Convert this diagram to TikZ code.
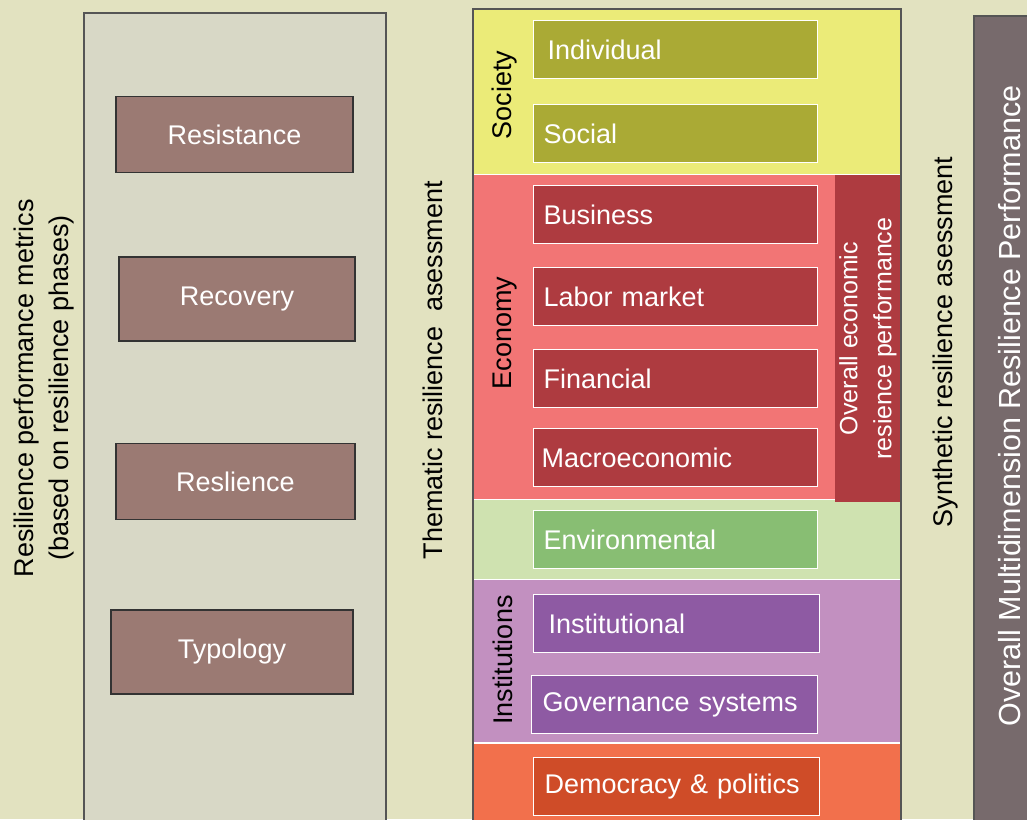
\documentclass[tikz,border=0pt]{standalone}
\usepackage{fontspec}
\setmainfont{Liberation Sans}
\usepackage{tikz}

\definecolor{paper}{RGB}{226,226,192}
\definecolor{panel}{RGB}{216,216,198}
\definecolor{phase}{RGB}{155,122,115}
\definecolor{edge}{RGB}{85,85,85}
\definecolor{socband}{RGB}{235,235,120}
\definecolor{socbox}{RGB}{170,170,53}
\definecolor{ecoband}{RGB}{242,117,117}
\definecolor{ecobox}{RGB}{174,59,64}
\definecolor{envband}{RGB}{207,226,176}
\definecolor{envbox}{RGB}{136,190,115}
\definecolor{insband}{RGB}{194,144,192}
\definecolor{insbox}{RGB}{142,90,163}
\definecolor{demband}{RGB}{242,112,76}
\definecolor{dembox}{RGB}{207,76,40}
\definecolor{overall}{RGB}{119,106,108}

\newcommand{\bigfont}{\fontsize{27}{35}\selectfont}
\newcommand{\band}[4]{\fill[#4] (473,#1) rectangle (901,#2); \draw[white,line width=1.2pt] (473,#3) -- (901,#3);}

\tikzset{
  phasebox/.style={draw=black!80, line width=1.2pt, fill=phase, text=white,
    minimum height=76pt, font=\bigfont},
  itembox/.style={anchor=north west, draw=white, line width=1.2pt, text=white,
    minimum width=284pt, minimum height=58pt, text width=264pt, align=left,
    inner xsep=10pt, font=\bigfont},
  sidelabel/.style={rotate=90, align=center, font=\bigfont}
}

\begin{document}
\begin{tikzpicture}[x=1pt, y=-1pt]
    \clip (0,0) rectangle (1027,819);
    \fill[paper] (0,0) rectangle (1027,819);

    % phases panel
    \draw[fill=panel, draw=edge, line width=1.5pt] (84,13) rectangle (386,830);
    \node[phasebox, minimum width=237pt] (resist) at (234.5,134.5) {Resistance};
    \node[phasebox, minimum width=236pt, minimum height=84pt] (recov) at (237,299) {Recovery};
    \node[phasebox, minimum width=239pt] (reslie) at (235.5,481.5) {Reslience};
    \node[phasebox, minimum width=242pt, minimum height=84pt] (typol) at (232,652) {Typology};
    \node[sidelabel] (metrics) at (44,388) {Resilience performance metrics\\(based on resilience phases)};

    \node[sidelabel] (thematic) at (433,370) {Thematic resilience \ asessment};

    % thematic bands
    \band{9}{175}{175}{socband}
    \band{175}{500}{500}{ecoband}
    \band{500}{580}{580}{envband}
    \band{580}{743}{743}{insband}
    \fill[demband] (473,743) rectangle (901,830);
    \draw[white,line width=1.2pt] (473,743) -- (901,743);

    % society
    \node[itembox, fill=socbox] (indiv) at (533,20) {\hspace{4pt}Individual};
    \node[itembox, fill=socbox] (social) at (533,104) {Social};
    \node[sidelabel] (society) at (505,95) {Society};
    % economy
    \node[itembox, fill=ecobox] (business) at (533,185) {Business};
    \node[itembox, fill=ecobox] (labor) at (533,267) {Labor market};
    \node[itembox, fill=ecobox] (financ) at (533,349) {Financial};
    \node[itembox, fill=ecobox] (macro) at (533,428) {\hspace{-2pt}Macroeconomic};
    \node[sidelabel] (economy) at (505,333) {Economy};
    \node[sidelabel, fill=ecobox, text=white, font=\fontsize{25}{34}\selectfont,
      minimum width=327pt, minimum height=66pt, inner sep=0pt] (ecoall) at (868,338.5)
      {Overall economic\\resience performance};
    % environment
    \node[itembox, fill=envbox] (environ) at (533,510) {Environmental};
    % institutions
    \node[itembox, fill=insbox, minimum width=286pt] (instit) at (533,594) {\hspace{4pt}Institutional};
    \node[itembox, fill=insbox, minimum width=286pt] (govern) at (531,675) {Governance systems};
    \node[sidelabel] (institutions) at (503,660) {Institutions};
    % democracy
    \node[itembox, fill=dembox, minimum width=286pt] (democ) at (533,757) {Democracy \& politics};

    \draw[edge, line width=1.5pt] (473,830) -- (473,9) -- (901,9) -- (901,830);

    % synthesis
    \node[sidelabel] (synth) at (946,342) {Synthetic resilience asessment};
    \draw[fill=overall, draw=edge, line width=1.5pt] (974,16) rectangle (1040,830);
    \node[sidelabel, text=white, font=\fontsize{30.5}{36}\selectfont] (multi) at (1010,406)
      {Overall Multidimension Resilience Performance};
\end{tikzpicture}
\end{document}
